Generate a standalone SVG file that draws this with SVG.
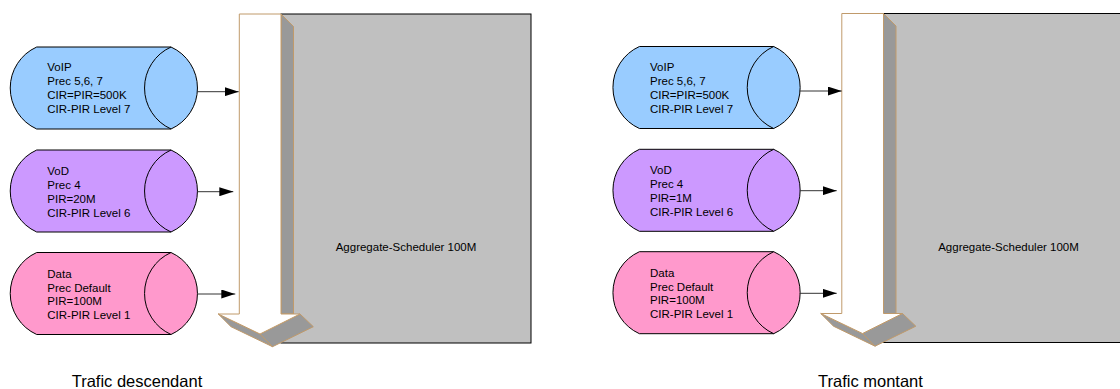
<svg xmlns="http://www.w3.org/2000/svg" width="1120" height="389" viewBox="0 0 1120 389">
<style>
.txt{font-family:"Liberation Sans",Arial,sans-serif;font-size:11.5px;fill:#000}
.cap{font-family:"Liberation Sans",Arial,sans-serif;font-size:16.5px;fill:#000}
.node{stroke:#000;stroke-width:1}
.inner{fill:none;stroke:#000;stroke-width:1}
.box{fill:#C0C0C0;stroke:#000;stroke-width:1}
.side{fill:#999999;stroke:#C09A6B;stroke-width:1;stroke-linejoin:round}
.front{fill:#FFFFFF;stroke:#C09A6B;stroke-width:1;stroke-linejoin:miter}
.conn{stroke:#333;stroke-width:1;fill:none}
</style>
<defs>
<marker id="ah" markerUnits="userSpaceOnUse" viewBox="0 0 14 9" refX="14" refY="4.5" markerWidth="14" markerHeight="9" orient="auto">
<path d="M0,0 L14,4.5 L0,9 Z" fill="#000"/>
</marker>
<path id="cyl" d="M26.7,0 L161,0 A45,45 0 0 1 161,82 L26.7,82 A45,45 0 0 1 26.7,0 Z"/>
</defs>
<rect width="1120" height="389" fill="#fff"/>

<!-- Left panel -->
<g id="scheduler-left">
<rect class="box" x="281" y="14" width="250" height="329"/>
<text class="txt" x="406" y="251" text-anchor="middle">Aggregate-Scheduler 100M</text>
</g>
<g id="flow-arrow-left">
<polygon class="side" points="281,14 293.5,26.5 293.5,314 281,314"/>
<polygon class="side" points="218.3,314 231,326.7 272.5,346.7 260,334"/>
<polygon class="side" points="260,334 272.5,346.7 313.3,326.7 300,314"/>
<polygon class="front" points="239.3,14 281,14 281,314 300,314 260,334 218.3,314 239.3,314"/>
</g>
<g id="voip-left">
<use href="#cyl" class="node" fill="#99CCFF" transform="translate(10,47)"/>
<path class="inner" d="M171,47 A45,45 0 0 0 171,129"/>
<text class="txt" x="47.3" y="71">VoIP</text>
<text class="txt" x="47.3" y="85">Prec 5,6, 7</text>
<text class="txt" x="47.3" y="99">CIR=PIR=500K</text>
<text class="txt" x="47.3" y="113">CIR-PIR Level 7</text>
</g>
<g id="vod-left">
<use href="#cyl" class="node" fill="#CC99FF" transform="translate(10,150)"/>
<path class="inner" d="M171,150 A45,45 0 0 0 171,232"/>
<text class="txt" x="47.3" y="175">VoD</text>
<text class="txt" x="47.3" y="189">Prec 4</text>
<text class="txt" x="47.3" y="203">PIR=20M</text>
<text class="txt" x="47.3" y="216.5">CIR-PIR Level 6</text>
</g>
<g id="data-left">
<use href="#cyl" class="node" fill="#FF99CC" transform="translate(10,252.5)"/>
<path class="inner" d="M171,252.5 A45,45 0 0 0 171,334.5"/>
<text class="txt" x="47.3" y="277.5">Data</text>
<text class="txt" x="47.3" y="291.5">Prec Default</text>
<text class="txt" x="47.3" y="305">PIR=100M</text>
<text class="txt" x="47.3" y="319">CIR-PIR Level 1</text>
</g>
<text id="caption-left" class="cap" x="71.7" y="387">Trafic descendant</text>

<!-- Right panel -->
<g id="scheduler-right">
<rect class="box" x="883.5" y="13.5" width="260" height="329"/>
<text class="txt" x="1008.5" y="250.5" text-anchor="middle">Aggregate-Scheduler 100M</text>
</g>
<g id="flow-arrow-right" transform="translate(602.5,-0.5)">
<polygon class="side" points="281,14 293.5,26.5 293.5,314 281,314"/>
<polygon class="side" points="218.3,314 231,326.7 272.5,346.7 260,334"/>
<polygon class="side" points="260,334 272.5,346.7 313.3,326.7 300,314"/>
<polygon class="front" points="239.3,14 281,14 281,314 300,314 260,334 218.3,314 239.3,314"/>
</g>
<g id="voip-right">
<use href="#cyl" class="node" fill="#99CCFF" transform="translate(612.7,46.5)"/>
<path class="inner" d="M773.7,46.5 A45,45 0 0 0 773.7,128.5"/>
<text class="txt" x="650" y="70.5">VoIP</text>
<text class="txt" x="650" y="84.5">Prec 5,6, 7</text>
<text class="txt" x="650" y="98.5">CIR=PIR=500K</text>
<text class="txt" x="650" y="112.5">CIR-PIR Level 7</text>
</g>
<g id="vod-right">
<use href="#cyl" class="node" fill="#CC99FF" transform="translate(612.7,149.3)"/>
<path class="inner" d="M773.7,149.3 A45,45 0 0 0 773.7,231.3"/>
<text class="txt" x="650" y="174.3">VoD</text>
<text class="txt" x="650" y="188.3">Prec 4</text>
<text class="txt" x="650" y="202.3">PIR=1M</text>
<text class="txt" x="650" y="215.8">CIR-PIR Level 6</text>
</g>
<g id="data-right">
<use href="#cyl" class="node" fill="#FF99CC" transform="translate(612.7,251.7)"/>
<path class="inner" d="M773.7,251.7 A45,45 0 0 0 773.7,333.7"/>
<text class="txt" x="650" y="276.7">Data</text>
<text class="txt" x="650" y="290.7">Prec Default</text>
<text class="txt" x="650" y="304.2">PIR=100M</text>
<text class="txt" x="650" y="318.2">CIR-PIR Level 1</text>
</g>
<text id="caption-right" class="cap" x="818" y="387">Trafic montant</text>

<g id="connectors">
<line class="conn" x1="197" y1="91.7" x2="238.7" y2="91.7" marker-end="url(#ah)"/>
<line class="conn" x1="197" y1="191.7" x2="233.3" y2="191.7" marker-end="url(#ah)"/>
<line class="conn" x1="197" y1="294" x2="235.3" y2="294" marker-end="url(#ah)"/>
<line class="conn" x1="799.7" y1="91" x2="841.7" y2="91" marker-end="url(#ah)"/>
<line class="conn" x1="799.7" y1="190.7" x2="836.7" y2="190.7" marker-end="url(#ah)"/>
<line class="conn" x1="799.7" y1="293.3" x2="836.7" y2="293.3" marker-end="url(#ah)"/>
</g>
</svg>
